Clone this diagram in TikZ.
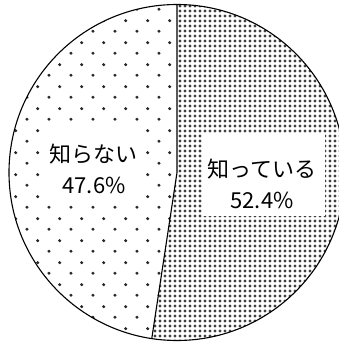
\documentclass[tikz,border=0pt]{standalone}
\usepackage{fontspec}
\newfontfamily\jpfont{Noto Sans CJK JP}
\usetikzlibrary{patterns}

% fill patterns of the two slices
\pgfdeclarepatternformonly{sparse dots}{\pgfpointorigin}{\pgfpoint{21.7pt}{22pt}}%
    {\pgfpoint{21.7pt}{22pt}}{%
    \pgfpathcircle{\pgfpoint{5pt}{5pt}}{1.7pt}%
    \pgfpathcircle{\pgfpoint{15.85pt}{16pt}}{1.7pt}%
    \pgfusepath{fill}}
\pgfdeclarepatternformonly{dense dots}{\pgfpointorigin}{\pgfpoint{4.5pt}{4.5pt}}%
    {\pgfpoint{4.5pt}{4.5pt}}{%
    \pgfpathcircle{\pgfpoint{2.25pt}{2.25pt}}{1.8pt}%
    \pgfusepath{fill}}

\begin{document}
\begin{tikzpicture}[x=1pt, y=1pt]
    \tikzset{pie line/.style={black, line width=1.1pt, line join=round},
        pie label/.style={align=center, inner sep=0pt,
            font=\jpfont\fontsize{22}{31}\selectfont}}
    \def\r{168}
    \def\cut{-98.64}
    \useasboundingbox (-177, -170.5) rectangle (162, 172.5);
    % 52.4% clockwise from the top, the rest back to the top
    \fill[pattern=dense dots, pattern color=black!75]
        (0, 0) -- (90:\r) arc[start angle=90, end angle=\cut, radius=\r] -- cycle;
    \fill[pattern=sparse dots, pattern color=black!85]
        (0, 0) -- (\cut:\r) arc[start angle=\cut, end angle=-270, radius=\r] -- cycle;
    \draw[pie line] (0, 0) circle[radius=\r];
    \draw[pie line] (90:\r) -- (0, 0) -- (\cut:\r);
    % white boxes under the labels
    \fill[white] (-137, -32.5) rectangle (-34, 44.5);
    \fill[white] (25, -43.5) rectangle (148, 38.5);
    \node[pie label] (shiranai) at (-83, 3.5) {知らない\\47.6\%};
    \node[pie label] (shitteiru) at (85, -11) {知っている\\52.4\%};
\end{tikzpicture}
\end{document}
